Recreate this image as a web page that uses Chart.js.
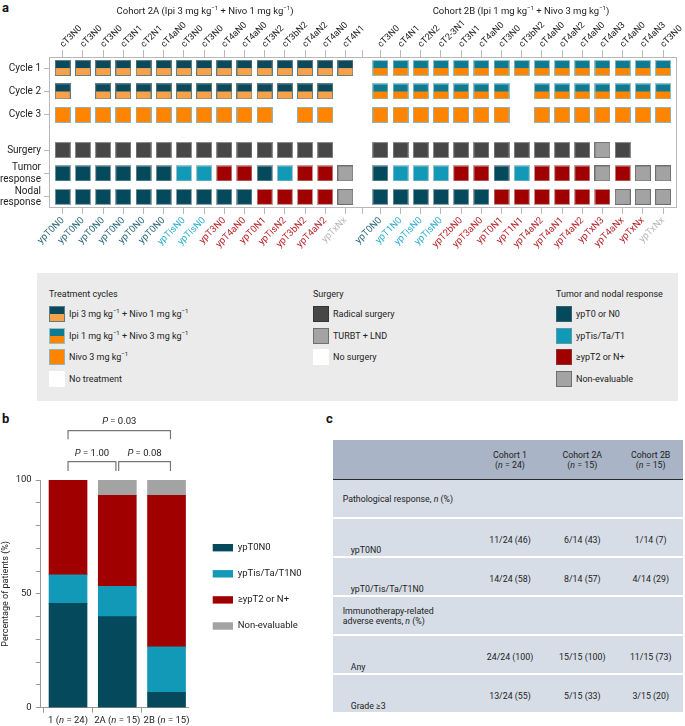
<!DOCTYPE html>
<html>
<head>
<meta charset="utf-8">
<script src="https://cdn.jsdelivr.net/npm/chart.js@4.4.1/dist/chart.umd.min.js"></script>
<style>
  body { margin: 0; width: 685px; height: 726px; position: relative; overflow: hidden; background: #fff;
         font-family: Roboto, 'Liberation Sans', sans-serif; color: #222; }
  .abs { position: absolute; }
  .tag { font-weight: bold; font-size: 13px; color: #111; line-height: 13px; }
  .cohort { font-size: 9.5px; white-space: nowrap; transform: translateX(-50%); line-height: 12px; }
  sup { font-size: 6px; vertical-align: 4px; line-height: 0; }
  #legendA { left: 37px; top: 273px; width: 641px; height: 128px; background: #ebebeb; font-size: 9px; }
  .lgHead { position: absolute; white-space: nowrap; line-height: 12px; }
  .lgItem { position: absolute; white-space: nowrap; line-height: 16px; height: 16px; padding-left: 20px; }
  .sw { position: absolute; left: 0; top: 0; width: 14px; height: 14px; border: 1px solid; }
  #tableC { left: 333px; top: 440px; width: 350px; font-size: 8.8px; }
  .th { position: absolute; left: 0; width: 350px; height: 38.5px; background: #a9b5c6; border-bottom: 1.5px solid #2b2b2b; }
  .tr { position: absolute; left: 0; width: 350px; height: 37px; background: #d6dde6; }
  .cell { position: absolute; width: 90px; text-align: center; white-space: nowrap; line-height: 10px; }
  .lab { position: absolute; white-space: nowrap; line-height: 10px; }
</style>
</head>
<body>
<div class="abs tag" style="left:2px;top:1px">a</div>
<div class="abs tag" style="left:2px;top:412px">b</div>
<div class="abs tag" style="left:326px;top:412px">c</div>

<div class="abs" style="left:0;top:0;width:685px;height:268px"><canvas id="gridChart"></canvas></div>
<div class="abs cohort" style="left:205px;top:5px">Cohort 2A (Ipi 3 mg kg<sup>−1</sup> + Nivo 1 mg kg<sup>−1</sup>)</div>
<div class="abs cohort" style="left:521px;top:5px">Cohort 2B (Ipi 1 mg kg<sup>−1</sup> + Nivo 3 mg kg<sup>−1</sup>)</div>

<div id="legendA" class="abs">
  <div class="lgHead" style="left:12px;top:15px">Treatment cycles</div>
  <div class="lgItem" style="left:12px;top:33px"><div class="sw" style="background:linear-gradient(#0a4a5c 0 50%,#f7a24a 50% 100%);border-color:#5d7d85"></div>Ipi 3 mg kg<sup>−1</sup> + Nivo 1 mg kg<sup>−1</sup></div>
  <div class="lgItem" style="left:12px;top:55px"><div class="sw" style="background:linear-gradient(#0e7b93 0 50%,#ff8500 50% 100%);border-color:#8cc3cc"></div>Ipi 1 mg kg<sup>−1</sup> + Nivo 3 mg kg<sup>−1</sup></div>
  <div class="lgItem" style="left:12px;top:76px"><div class="sw" style="background:#ff8500;border-color:#93b3b8"></div>Nivo 3 mg kg<sup>−1</sup></div>
  <div class="lgItem" style="left:12px;top:98px"><div class="sw" style="background:#fff;border-color:#fff"></div>No treatment</div>

  <div class="lgHead" style="left:276px;top:15px">Surgery</div>
  <div class="lgItem" style="left:276px;top:33px"><div class="sw" style="background:#474747;border-color:#363636"></div>Radical surgery</div>
  <div class="lgItem" style="left:276px;top:55px"><div class="sw" style="background:#a3a3a3;border-color:#6f6f6f"></div>TURBT + LND</div>
  <div class="lgItem" style="left:276px;top:76px"><div class="sw" style="background:#fff;border-color:#fff"></div>No surgery</div>

  <div class="lgHead" style="left:519px;top:15px">Tumor and nodal response</div>
  <div class="lgItem" style="left:519px;top:33px"><div class="sw" style="background:#044a5c;border-color:#37606b"></div>ypT0 or N0</div>
  <div class="lgItem" style="left:519px;top:55px"><div class="sw" style="background:#1199b7;border-color:#5d9aa8"></div>ypTis/Ta/T1</div>
  <div class="lgItem" style="left:519px;top:76px"><div class="sw" style="background:#a10000;border-color:#8a3030"></div>≥ypT2 or N+</div>
  <div class="lgItem" style="left:519px;top:98px"><div class="sw" style="background:#a3a3a3;border-color:#6f6f6f"></div>Non-evaluable</div>
</div>

<div class="abs" style="left:0;top:410px;width:330px;height:316px"><canvas id="respChart"></canvas></div>
<div id="tableC" class="abs"></div>

<script>
// ---- panel a: per-patient course, cohort 2A and 2B ----
const clinA = ['cT3N0','cT3N0','cT3N0','cT3N1','cT2N1','cT4aN0','cT3N0','cT3N0','cT4aN0','cT4aN0','cT3N2','cT3bN2','cT4aN2','cT4aN0','cT4N1'];
const clinB = ['cT3N0','cT4N1','cT2N2','cT2-3N1','cT3N1','cT4aN0','cT3N0','cT3bN2','cT4aN0','cT4aN2','cT4aN0','cT4aN3','cT4aN0','cT4aN3','cT3N0'];
const pathA = ['ypT0N0','ypT0N0','ypT0N0','ypT0N0','ypT0N0','ypT0N0','ypTisN0','ypTisN0','ypT3N0','ypT4aN0','ypT0N1','ypTisN2','ypT3bN2','ypT4aN2','ypTxNx'];
const pathB = ['ypT0N0','ypT1N0','ypTisN0','ypTisN0','ypT2bN0','ypT3aN0','ypT0N1','ypT1N1','ypT4aN2','ypT4aN1','ypT4aN2','ypTxN3','ypT4aNx','ypTxNx','ypTxNx'];
// overall response class: 0 ypT0N0, 1 ypTis/Ta/T1N0, 2 >=ypT2 or N+, 3 non-evaluable
const overallA = [0,0,0,0,0,0,1,1,2,2,2,2,2,2,3];
const overallB = [0,1,1,1,2,2,2,2,2,2,2,2,2,2,3];
const cycle1A = [1,1,1,1,1,1,1,1,1,1,1,1,1,1,1];
const cycle2A = [1,0,1,1,1,1,1,1,1,1,1,1,1,1,0];
const cycle3A = [1,1,1,1,1,1,1,1,1,1,1,0,1,1,0];
const cycle1B = [1,1,1,1,1,1,1,1,1,1,1,1,1,1,1];
const cycle2B = [1,1,1,1,1,1,1,0,1,1,1,1,1,1,1];
const cycle3B = [1,1,1,1,1,1,1,0,1,1,1,1,1,1,1];
// surgery: R radical, T TURBT + LND, '' none
const surgeryA = ['R','R','R','R','R','R','R','R','R','R','R','R','R','R',''];
const surgeryB = ['R','R','R','R','R','R','R','R','R','R','R','T','R','',''];
// response: 0 ypT0 or N0, 1 ypTis/Ta/T1, 2 >=ypT2 or N+, 3 non-evaluable
const tumorA = [0,0,0,0,0,0,1,1,2,2,0,1,2,2,3];
const tumorB = [0,1,1,1,2,2,0,1,2,2,2,3,2,3,3];
const nodalA = [0,0,0,0,0,0,0,0,0,0,2,2,2,2,3];
const nodalB = [0,0,0,0,0,0,2,2,2,2,2,2,3,3,3];
const rowLabels = ['Cycle 1','Cycle 2','Cycle 3','Surgery',['Tumor','response'],['Nodal','response']];

// ---- panel b: pathological response by cohort (%) ----
const respCohorts = ['1','2A','2B'];
const respN = [24, 15, 15];
const pctT0N0 = [45.8, 40.0, 6.7];
const pctTisT1N0 = [12.5, 13.3, 20.0];
const pctT2Nplus = [41.7, 40.0, 66.6];
const pctNonEval = [0, 6.7, 6.7];
const pBrackets = [['0', '2', '0.03'], ['0', '1', '1.00'], ['1', '2', '0.08']];

// ---- panel c: table ----
const tableHead = [['Cohort 1', '24'], ['Cohort 2A', '15'], ['Cohort 2B', '15']];
const tableRows = [
  ['Pathological response, <i>n</i> (%)', null],
  ['ypT0N0', ['11/24 (46)', '6/14 (43)', '1/14 (7)']],
  ['ypT0/Tis/Ta/T1N0', ['14/24 (58)', '8/14 (57)', '4/14 (29)']],
  ['Immunotherapy-related<br>adverse events, <i>n</i> (%)', null],
  ['Any', ['24/24 (100)', '15/15 (100)', '11/15 (73)']],
  ['Grade ≥3', ['13/24 (55)', '5/15 (33)', '3/15 (20)']],
];

Chart.defaults.font.family = "Roboto, 'Liberation Sans', sans-serif";
Chart.defaults.color = '#222';
Chart.defaults.animation = false;

const respColors = ['#044a5c', '#1199b7', '#a10000', '#a3a3a3'];
const respBorders = ['#8fa3a8', '#9cc4cc', '#c79a9a', '#6f6f6f'];
const labelColors = ['#2d6a7b', '#2fb0cf', '#b8262c', '#b9b9b9'];

function tile(fill, border, lower) {
  const c = document.createElement('canvas');
  c.width = 16; c.height = 16;
  const g = c.getContext('2d');
  g.fillStyle = border; g.fillRect(0, 0, 16, 16);
  g.fillStyle = fill; g.fillRect(1, 1, 14, 14);
  if (lower) { g.fillStyle = lower; g.fillRect(1, 8, 14, 7); }
  return c;
}

const GAP = 1.73;
const colX = (cohort, i) => cohort === 'A' ? i : 15 + GAP - 1 + i;
const rowY = [0, 1, 2, 3.5, 4.5, 5.5];

const groups = {
  ipi3: { label: 'Ipi 3 + Nivo 1', img: tile('#0a4a5c', '#5d7d85', '#f7a24a'), data: [] },
  ipi1: { label: 'Ipi 1 + Nivo 3', img: tile('#0e7b93', '#8cc3cc', '#ff8500'), data: [] },
  nivo: { label: 'Nivo 3', img: tile('#ff8500', '#93b3b8'), data: [] },
  R: { label: 'Radical surgery', img: tile('#474747', '#8c8c8c'), data: [] },
  T: { label: 'TURBT + LND', img: tile('#a3a3a3', '#767676'), data: [] },
};
respColors.forEach((c, k) => { groups['r' + k] = { label: 'resp' + k, img: tile(c, respBorders[k]), data: [] }; });

[['A', cycle1A, cycle2A, cycle3A, surgeryA, tumorA, nodalA, 'ipi3'],
 ['B', cycle1B, cycle2B, cycle3B, surgeryB, tumorB, nodalB, 'ipi1']].forEach(([co, c1, c2, c3, su, tu, no, reg]) => {
  for (let i = 0; i < 15; i++) {
    const x = colX(co, i);
    if (c1[i]) groups[reg].data.push({ x, y: rowY[0] });
    if (c2[i]) groups[reg].data.push({ x, y: rowY[1] });
    if (c3[i]) groups.nivo.data.push({ x, y: rowY[2] });
    if (su[i]) groups[su[i]].data.push({ x, y: rowY[3] });
    groups['r' + tu[i]].data.push({ x, y: rowY[4] });
    groups['r' + no[i]].data.push({ x, y: rowY[5] });
  }
});

const tickPos = [...clinA.map((_, i) => colX('A', i)), 15 + GAP / 2 - 1, ...clinB.map((_, i) => colX('B', i))];
const topLabels = [...clinA, '', ...clinB];
const bottomLabels = [...pathA, '', ...pathB];
const bottomColors = [...overallA.map(k => labelColors[k]), '#000', ...overallB.map(k => labelColors[k])];

const xMin = -0.68, xMax = 15 + GAP - 1 + 14 + 0.64;
const axisGrey = '#b8b8b8';

// right frame line and the rotated clinical-stage labels above the top axis
const frameAndTop = {
  id: 'frameAndTop',
  afterDraw(chart) {
    const { ctx, chartArea: a } = chart;
    const xs = chart.scales.xTop;
    ctx.save();
    ctx.strokeStyle = axisGrey; ctx.lineWidth = 1;
    ctx.beginPath(); ctx.moveTo(a.right + 0.5, a.top); ctx.lineTo(a.right + 0.5, a.bottom); ctx.stroke();
    ctx.font = '9px ' + Chart.defaults.font.family;
    ctx.fillStyle = '#222'; ctx.textAlign = 'left'; ctx.textBaseline = 'middle';
    xs.ticks.forEach((t, i) => {
      if (!topLabels[i]) return;
      ctx.save();
      ctx.translate(xs.getPixelForValue(t.value) - 1, a.top - 11);
      ctx.rotate(-Math.PI / 4);
      ctx.fillText(topLabels[i], 0, 0);
      ctx.restore();
    });
    ctx.restore();
  }
};

new Chart(document.getElementById('gridChart'), {
  type: 'scatter',
  data: {
    datasets: Object.values(groups).map(g => ({
      label: g.label, data: g.data, pointStyle: g.img, pointRadius: 8, clip: false
    }))
  },
  options: {
    responsive: true, maintainAspectRatio: false,
    layout: { padding: { right: 7 } },
    plugins: { legend: { display: false }, tooltip: { enabled: false } },
    scales: {
      xTop: {
        type: 'linear', position: 'top', min: xMin, max: xMax,
        afterBuildTicks: s => { s.ticks = tickPos.map(v => ({ value: v })); },
        afterFit: s => { s.height = 57; },
        grid: { drawOnChartArea: false, tickLength: 7, color: axisGrey },
        border: { color: axisGrey },
        ticks: { display: false }
      },
      x: {
        type: 'linear', position: 'bottom', min: xMin, max: xMax,
        afterBuildTicks: s => { s.ticks = tickPos.map(v => ({ value: v })); },
        afterFit: s => { s.height = 61; },
        grid: { drawOnChartArea: false, tickLength: 7, color: axisGrey },
        border: { color: axisGrey },
        ticks: { autoSkip: false, minRotation: 45, maxRotation: 45, padding: 1, font: { size: 9.5 },
                 color: c => bottomColors[c.index], callback: (v, i) => bottomLabels[i] }
      },
      y: {
        type: 'linear', reverse: true, min: -0.47, max: 5.93,
        afterBuildTicks: s => { s.ticks = rowY.map(v => ({ value: v })); },
        afterFit: s => { s.width = 49; },
        grid: { drawOnChartArea: false, tickLength: 5, color: axisGrey },
        border: { color: axisGrey },
        ticks: { padding: 3, font: { size: 10, lineHeight: 1.15 }, callback: (v, i) => rowLabels[i] }
      }
    }
  },
  plugins: [frameAndTop]
});

// ---- panel b ----
const bracketPlugin = {
  id: 'brackets',
  afterDraw(chart) {
    const { ctx } = chart;
    const xs = chart.scales.x;
    const fam = Chart.defaults.font.family;
    ctx.save();
    ctx.strokeStyle = '#777'; ctx.lineWidth = 1.2;
    ctx.fillStyle = '#222'; ctx.textBaseline = 'middle'; ctx.textAlign = 'left';
    pBrackets.forEach(([a, b, p], k) => {
      const lvl = k === 0 ? 0 : 1;
      const yLine = lvl === 0 ? 20.7 : 51.7, yLeg = lvl === 0 ? 29.3 : 61, yTxt = lvl === 0 ? 11.7 : 44;
      let x1 = xs.getPixelForValue(+a), x2 = xs.getPixelForValue(+b === 2 ? 2.08 : +b);
      if (k === 1) x2 -= 1.4;
      if (k === 2) x1 += 1.4;
      ctx.beginPath();
      ctx.moveTo(x1, yLeg); ctx.lineTo(x1, yLine); ctx.lineTo(x2, yLine); ctx.lineTo(x2, yLeg);
      ctx.stroke();
      const italic = 'italic 9.5px ' + fam, plain = '9.5px ' + fam;
      ctx.font = italic; const w1 = ctx.measureText('P').width;
      ctx.font = plain; const w2 = ctx.measureText(' = ' + p).width;
      const tx = (x1 + x2) / 2 - (w1 + w2) / 2;
      ctx.font = italic; ctx.fillText('P', tx, yTxt);
      ctx.font = plain; ctx.fillText(' = ' + p, tx + w1, yTxt);
    });
    // x labels with italic n
    respCohorts.forEach((c, i) => {
      const parts = [[c + ' (', '9.5px ' + fam], ['n', 'italic 9.5px ' + fam], [' = ' + respN[i] + ')', '9.5px ' + fam]];
      const widths = parts.map(([t, f]) => { ctx.font = f; return ctx.measureText(t).width; });
      let tx = xs.getPixelForValue(i) - widths.reduce((s, w) => s + w, 0) / 2;
      parts.forEach(([t, f], j) => { ctx.font = f; ctx.fillText(t, tx, 311); tx += widths[j]; });
    });
    // legend
    const a = chart.chartArea;
    chart.data.datasets.forEach((ds, i) => {
      const yc = a.top + 67.7 + i * 26.1;
      ctx.fillStyle = ds.backgroundColor;
      ctx.fillRect(a.right + 24, yc - 3.7, 20.3, 7.4);
      ctx.fillStyle = '#222'; ctx.font = '9.5px ' + fam;
      ctx.fillText(ds.label, a.right + 49, yc);
    });
    ctx.restore();
  }
};

const toPts = arr => arr.map((v, i) => ({ x: i, y: v }));
new Chart(document.getElementById('respChart'), {
  type: 'bar',
  data: {
    datasets: [
      { label: 'ypT0N0', data: toPts(pctT0N0), backgroundColor: '#044a5c' },
      { label: 'ypTis/Ta/T1N0', data: toPts(pctTisT1N0), backgroundColor: '#1199b7' },
      { label: '≥ypT2 or N+', data: toPts(pctT2Nplus), backgroundColor: '#a10000' },
      { label: 'Non-evaluable', data: toPts(pctNonEval), backgroundColor: '#a3a3a3' },
    ]
  },
  options: {
    responsive: true, maintainAspectRatio: false,
    layout: { padding: { top: 70, right: 141.3 } },
    datasets: { bar: { barThickness: 38 } },
    plugins: { legend: { display: false }, tooltip: { enabled: false } },
    scales: {
      x: {
        type: 'linear', stacked: true, min: -0.555, max: 2.45, offset: false,
        afterBuildTicks: s => { s.ticks = respCohorts.map((_, i) => ({ value: i })); },
        afterFit: s => { s.height = 18.3; },
        grid: { drawOnChartArea: false, tickLength: 5, color: '#999' },
        border: { color: '#999' },
        ticks: { callback: () => '' }
      },
      y: {
        stacked: true, min: 0, max: 100,
        afterFit: s => { s.width = 40.7; },
        grid: { drawOnChartArea: false, tickLength: 5, color: '#999' },
        border: { color: '#999' },
        ticks: { stepSize: 10, padding: 4, font: { size: 9.5 }, callback: v => v % 50 === 0 ? v : '' },
        title: { display: true, text: 'Percentage of patients (%)', padding: 0, font: { size: 9 } }
      }
    }
  },
  plugins: [bracketPlugin]
});

// ---- panel c ----
const tbl = document.getElementById('tableC');
const colCenters = [177, 249.3, 317.7];
let html = '<div class="th" style="top:0"></div>';
tableHead.forEach(([h, n], j) => {
  html += `<div class="cell" style="left:${colCenters[j] - 45}px;top:10px">${h}<br>(<i>n</i> = ${n})</div>`;
});
tableRows.forEach(([lab, vals], r) => {
  const top = 40 + r * 39;
  html += `<div class="tr" style="top:${top}px"></div>`;
  if (!vals) {
    const lines = lab.split('<br>').length;
    html += `<div class="lab" style="left:9.7px;top:${top + 18.5 - lines * 5}px">${lab}</div>`;
  } else {
    html += `<div class="lab" style="left:17.7px;top:${top + 25.5}px">${lab}</div>`;
    vals.forEach((v, j) => {
      html += `<div class="cell" style="left:${colCenters[j] - 45}px;top:${top + 15.5}px">${v}</div>`;
    });
  }
});
tbl.innerHTML = html;
</script>
</body>
</html>
